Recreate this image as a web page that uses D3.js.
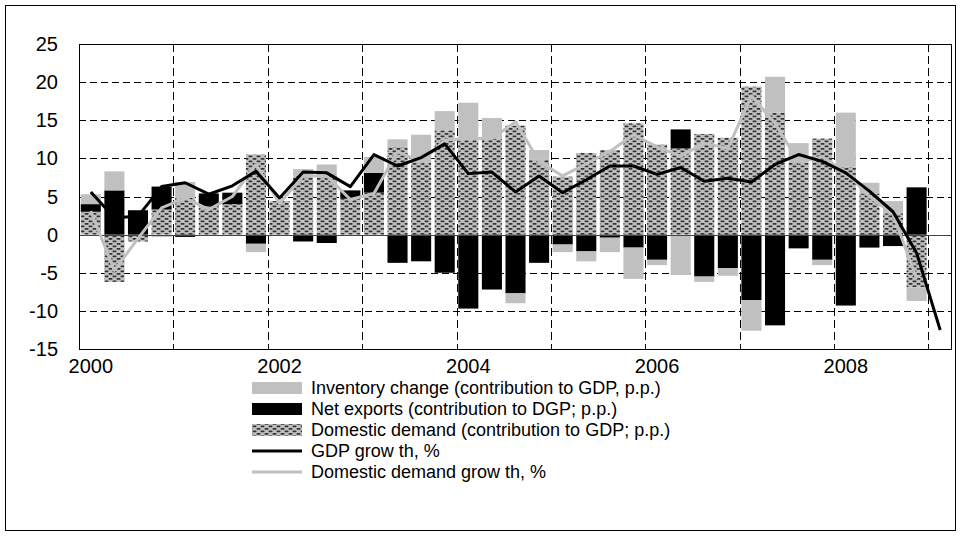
<!DOCTYPE html>
<html>
<head>
<meta charset="utf-8">
<script src="https://cdn.jsdelivr.net/npm/d3@7"></script>
<style>
  body { margin: 0; background: #fff; }
  text { font-family: "Liberation Sans", Arial, sans-serif; }
</style>
</head>
<body>
<div id="chart"></div>
<script>
// quarterly categories, 2000Q1 .. 2009Q1
var quarters = ["2000Q1","2000Q2","2000Q3","2000Q4","2001Q1","2001Q2","2001Q3","2001Q4",
  "2002Q1","2002Q2","2002Q3","2002Q4","2003Q1","2003Q2","2003Q3","2003Q4",
  "2004Q1","2004Q2","2004Q3","2004Q4","2005Q1","2005Q2","2005Q3","2005Q4",
  "2006Q1","2006Q2","2006Q3","2006Q4","2007Q1","2007Q2","2007Q3","2007Q4",
  "2008Q1","2008Q2","2008Q3","2008Q4","2009Q1"];
var tickQuarters = ["2000Q1","2002Q1","2004Q1","2006Q1","2008Q1"];
var tickLabels = ["2000","2002","2004","2006","2008"];
var yTicks = [-15,-10,-5,0,5,10,15,20,25];

var domDemand = [3.0,-6.2,-0.9,3.3,4.8,3.7,4.0,10.5,4.4,7.7,7.9,4.7,5.5,11.5,9.4,13.7,
  12.4,12.6,14.3,9.8,7.6,10.7,11.1,14.6,11.8,11.3,13.2,12.7,19.4,16.0,9.5,12.6,
  8.9,5.4,2.8,-6.9,null];
var netExports = [1.0,5.8,3.2,3.0,-0.3,1.7,1.5,-1.2,0,-0.9,-1.1,1.1,2.6,-3.7,-3.5,-5.0,
  -9.7,-7.2,-7.7,-3.7,-1.3,-2.2,-0.4,-1.7,-3.3,2.5,-5.5,-4.4,-8.6,-11.9,-1.8,-3.3,
  -9.3,-1.7,-1.5,6.2,null];
var inventory = [1.3,2.5,0,-0.3,2.1,0,0,-1.1,0,0.9,1.3,0,2.1,1.0,3.7,2.5,
  4.9,2.7,-1.3,1.3,-1.0,-1.3,-1.9,-4.1,-0.7,-5.3,-0.7,-1.0,-4.0,4.7,2.5,-0.7,
  7.1,1.4,1.6,-1.8,null];
var gdpGrowth = [5.6,2.2,2.4,6.3,6.8,5.3,6.4,8.3,4.8,8.2,8.1,6.3,10.5,9.0,10.1,11.9,
  8.0,8.2,5.6,7.7,5.5,7.2,9.0,9.0,7.9,8.8,7.0,7.4,6.9,9.2,10.5,9.6,
  8.1,5.7,3.0,-2.4,-12.5];
var ddGrowth = [3.1,-4.7,-0.5,3.5,4.8,3.3,5.0,9.2,4.1,7.7,7.7,4.6,5.4,10.9,9.5,12.4,
  12.6,12.6,14.8,9.6,7.7,9.3,10.9,13.1,11.5,10.3,12.0,11.3,18.2,14.6,9.5,10.2,
  8.2,5.0,2.7,-5.8,null];

var legendItems = [
  {label: "Inventory change (contribution to GDP, p.p.)", type: "inv"},
  {label: "Net exports (contribution to DGP; p.p.)", type: "nx"},
  {label: "Domestic demand (contribution to GDP; p.p.)", type: "dd"},
  {label: "GDP grow th, %", type: "gdp"},
  {label: "Domestic demand grow th, %", type: "ddg"}
];

var W = 961, H = 536;
var plot = {left: 79, right: 952, top: 44, bottom: 349};
var fills = {inv: "#c0c0c0", nx: "#000", dd: "url(#dots)"};

var svg = d3.select("#chart").append("svg")
  .attr("width", W).attr("height", H);

var defs = svg.append("defs");
var pat = defs.append("pattern")
  .attr("id", "dots").attr("patternUnits", "userSpaceOnUse")
  .attr("width", 8).attr("height", 5);
pat.append("rect").attr("width", 8).attr("height", 5).attr("fill", "#c0c0c0");
pat.append("rect").attr("x", 0.5).attr("y", 0.5).attr("width", 4).attr("height", 1.8)
  .attr("rx", 0.8).attr("fill", "#333");
pat.append("rect").attr("x", 4.5).attr("y", 3).attr("width", 4).attr("height", 1.8)
  .attr("rx", 0.8).attr("fill", "#333");
pat.append("rect").attr("x", -3.5).attr("y", 3).attr("width", 4).attr("height", 1.8)
  .attr("rx", 0.8).attr("fill", "#333");

// outer frame
svg.append("rect")
  .attr("x", 5.5).attr("y", 5.5).attr("width", 950).attr("height", 525)
  .attr("fill", "none").attr("stroke", "#000").attr("stroke-width", 1);

var x = d3.scaleBand().domain(quarters)
  .range([plot.left, plot.right]).paddingInner(0.15).paddingOuter(0.075);
var y = d3.scaleLinear().domain([-15, 25]).range([plot.bottom, plot.top]);
var step = x.step();
function cx(q) { return x(q) + x.bandwidth() / 2; }

// horizontal dashed grid
svg.append("g").selectAll("line")
  .data(yTicks.filter(function (d) { return d != 0 && d != 25 && d != -15; }))
  .enter().append("line")
  .attr("x1", plot.left).attr("x2", plot.right)
  .attr("y1", function (d) { return Math.round(y(d)) + 0.5; })
  .attr("y2", function (d) { return Math.round(y(d)) + 0.5; })
  .attr("stroke", "#000").attr("stroke-dasharray", "7,4");

// vertical dashed grid, every 4 quarters
var vIdx = [];
for (var k = 4; k < quarters.length; k += 4) vIdx.push(k);
svg.append("g").selectAll("line")
  .data(vIdx).enter().append("line")
  .attr("x1", function (k) { return Math.round(x(quarters[k]) - (step - x.bandwidth()) / 2) + 0.5; })
  .attr("x2", function (k) { return Math.round(x(quarters[k]) - (step - x.bandwidth()) / 2) + 0.5; })
  .attr("y1", plot.top).attr("y2", plot.bottom)
  .attr("stroke", "#000").attr("stroke-dasharray", "8,4");

// stacked bars
var table = quarters.map(function (q, i) {
  return {q: q, dd: domDemand[i] || 0, nx: netExports[i] || 0, inv: inventory[i] || 0};
});
var series = d3.stack().keys(["dd", "nx", "inv"])
  .offset(d3.stackOffsetDiverging)(table);

svg.append("g").selectAll("g")
  .data(series).enter().append("g")
  .attr("fill", function (s) { return fills[s.key]; })
  .selectAll("rect")
  .data(function (s) { return s; })
  .enter().append("rect")
  .attr("x", function (d) { return x(d.data.q); })
  .attr("width", x.bandwidth())
  .attr("y", function (d) { return y(Math.max(d[0], d[1])); })
  .attr("height", function (d) { return Math.abs(y(d[0]) - y(d[1])); });

// zero line
svg.append("line")
  .attr("x1", plot.left).attr("x2", plot.right)
  .attr("y1", Math.round(y(0)) + 0.5).attr("y2", Math.round(y(0)) + 0.5)
  .attr("stroke", "#444").attr("stroke-width", 1);

// lines
var lineGen = d3.line()
  .defined(function (d) { return d.v != null; })
  .x(function (d) { return cx(d.q); })
  .y(function (d) { return y(d.v); });

svg.append("path")
  .datum(quarters.map(function (q, i) { return {q: q, v: ddGrowth[i]}; }))
  .attr("d", lineGen).attr("fill", "none")
  .attr("stroke", "#c0c0c0").attr("stroke-width", 3).attr("stroke-linejoin", "round");
svg.append("path")
  .datum(quarters.map(function (q, i) { return {q: q, v: gdpGrowth[i]}; }))
  .attr("d", lineGen).attr("fill", "none")
  .attr("stroke", "#000").attr("stroke-width", 3).attr("stroke-linejoin", "round");

// plot border
svg.append("rect")
  .attr("x", plot.left + 0.5).attr("y", plot.top + 0.5)
  .attr("width", plot.right - plot.left - 1).attr("height", plot.bottom - plot.top)
  .attr("fill", "none").attr("stroke", "#000");

// y axis labels
svg.append("g").selectAll("text")
  .data(yTicks).enter().append("text")
  .attr("x", 58).attr("y", function (d) { return y(d); })
  .attr("dy", "0.35em").attr("text-anchor", "end")
  .attr("font-size", 20).text(function (d) { return d; });

// x axis labels
svg.append("g").selectAll("text")
  .data(tickQuarters).enter().append("text")
  .attr("x", function (q) { return cx(q); }).attr("y", 366)
  .attr("dy", "0.35em").attr("text-anchor", "middle")
  .attr("font-size", 20).text(function (q, i) { return tickLabels[i]; });

// legend
var lg = svg.append("g").selectAll("g")
  .data(legendItems).enter().append("g")
  .attr("transform", function (d, i) { return "translate(252," + (388 + i * 21) + ")"; });
lg.each(function (d) {
  var g = d3.select(this);
  if (d.type == "gdp" || d.type == "ddg") {
    g.append("line").attr("x1", 0).attr("x2", 50).attr("y1", 0).attr("y2", 0)
      .attr("stroke", d.type == "gdp" ? "#000" : "#c0c0c0").attr("stroke-width", 3);
  } else {
    g.append("rect").attr("x", 0).attr("y", -6).attr("width", 50).attr("height", 12)
      .attr("fill", fills[d.type]);
  }
  g.append("text").attr("x", 59).attr("y", 0).attr("dy", "0.35em")
    .attr("font-size", 18).text(d.label);
});
</script>
</body>
</html>
